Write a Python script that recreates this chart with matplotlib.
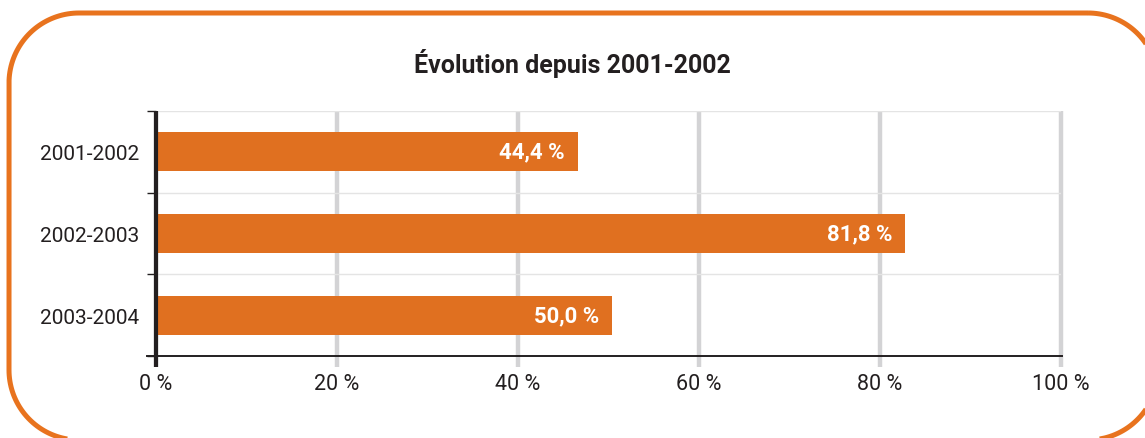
import numpy as np
import matplotlib.pyplot as plt

# data
periods = ["2001-2002", "2002-2003", "2003-2004"]
bar_lengths = [46.6, 82.8, 50.4]
bar_labels = ["44,4 %", "81,8 %", "50,0 %"]
x_ticks = [0, 20, 40, 60, 80, 100]
x_tick_labels = ["0 %", "20 %", "40 %", "60 %", "80 %", "100 %"]
title = "Évolution depuis 2001-2002"

orange = "#E07020"
frame_orange = "#E8731E"
text_col = "#231F20"

plt.rcParams['font.family'] = ['Roboto', 'DejaVu Sans']

W, H = 1145, 439
fig = plt.figure(figsize=(W / 100, H / 100), dpi=100)


def rounded_rect(x0, y0, x1, y1, r, n=40):
    """outline of a rounded rectangle (pixel units, y pointing down)"""
    corners = [(x1 - r, y0 + r, -90, 0), (x1 - r, y1 - r, 0, 90),
               (x0 + r, y1 - r, 90, 180), (x0 + r, y0 + r, 180, 270)]
    xs, ys = [], []
    for cx, cy, a0, a1 in corners:
        t = np.radians(np.linspace(a0, a1, n))
        xs.extend(cx + r * np.cos(t))
        ys.extend(cy + r * np.sin(t))
    xs.append(xs[0])
    ys.append(ys[0])
    return xs, ys


# background axes in pixel units for the rounded orange frame
bg = fig.add_axes([0, 0, 1, 1])
bg.set_xlim(0, W)
bg.set_ylim(H, 0)
bg.axis('off')
fx, fy = rounded_rect(9, 14, 1158, 441, 70)
bg.plot(fx, fy, color=frame_orange, linewidth=3.6, clip_on=False,
        solid_capstyle='butt', solid_joinstyle='round')

ax = fig.add_axes([156 / W, 1 - 357 / H, (1061 - 156) / W, (357 - 112) / H])

ypos = range(len(periods))
ax.barh(ypos, bar_lengths, height=0.48, color=orange, zorder=3)

for y, length, lab in zip(ypos, bar_lengths, bar_labels):
    ax.annotate(lab, (length, y), xytext=(-13, 0), textcoords='offset pixels',
                ha='right', va='center', color='white', fontsize=16,
                fontweight='bold', zorder=4)

ax.set_xlim(0, 100)
ax.set_ylim(len(periods) - 0.5, -0.5)

# vertical grid lines, running a bit below the axis
ax.vlines(x_ticks, -0.045, 1, transform=ax.get_xaxis_transform(),
          colors="#D3D3D5", linewidth=3.2, zorder=1, clip_on=False)
# thin separators between categories
for b in [-0.5, 0.5, 1.5]:
    ax.axhline(b, color="#E4E4E4", linewidth=1.0, zorder=1)

for s in ax.spines.values():
    s.set_visible(False)

# bottom axis line and thick left axis
ax.plot([-0.01, 1.001], [0, 0], transform=ax.transAxes, color=text_col,
        linewidth=1.4, clip_on=False, zorder=5)
ax.plot([0, 0], [-0.045, 1], transform=ax.transAxes, color=text_col,
        linewidth=3.0, clip_on=False, zorder=6, solid_capstyle='butt')

ax.set_xticks(x_ticks)
ax.set_xticklabels(x_tick_labels, fontsize=15.5, color=text_col)
ax.tick_params(axis='x', length=0, pad=12)

ax.set_yticks(list(ypos))
ax.set_yticklabels(periods, fontsize=15, color=text_col)
ax.tick_params(axis='y', which='major', length=0, pad=12)
ax.set_yticks([-0.5, 0.5, 1.5, 2.5], minor=True)
ax.tick_params(axis='y', which='minor', length=6.5, width=1.0,
               color=text_col, direction='out')

fig.text(0.5, 1 - 64 / H, title, ha='center', va='center', fontsize=18,
         fontweight='bold', color=text_col)

fig.savefig("out.png", dpi=100, facecolor='white')
